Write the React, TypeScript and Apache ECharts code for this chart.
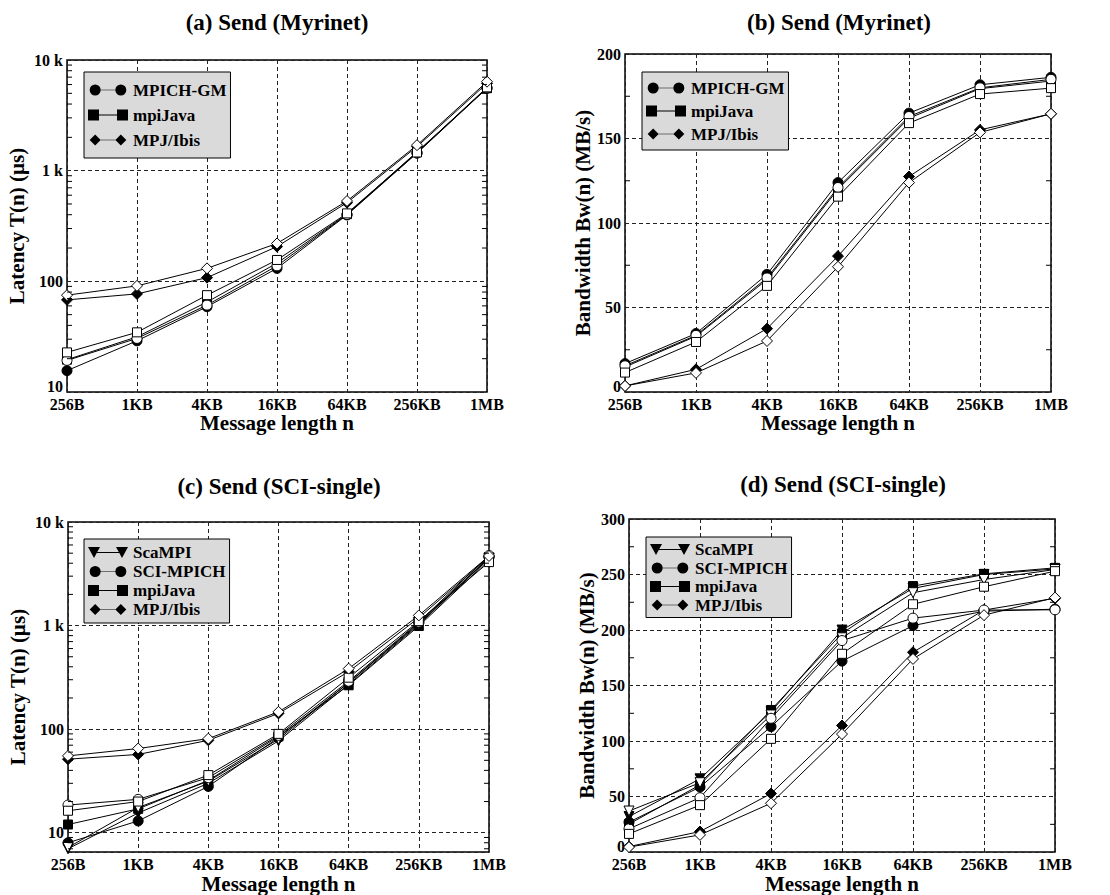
import React, { useEffect, useRef } from 'react';
import * as echarts from 'echarts';

const FONT = 'Liberation Serif, Times New Roman, serif';

// ---------- data ----------
const categories = ['256B', '1KB', '4KB', '16KB', '64KB', '256KB', '1MB'];

// (a) Latency, Myrinet (us)
const aMpichGmFilled = [15.6, 29, 59, 131, 398, 1440, 5550];
const aMpichGmOpen = [19.3, 30.5, 61, 138, 402, 1450, 5600];
const aMpiJavaFilled = [19.6, 31.5, 65, 146, 405, 1480, 5560];
const aMpiJavaOpen = [22.8, 34.6, 75, 156, 411, 1460, 5660];
const aMpjIbisFilled = [68, 77, 108, 206, 514, 1650, 6150];
const aMpjIbisOpen = [75, 91, 131, 220, 532, 1700, 6370];

// (b) Bandwidth, Myrinet (MB/s)
const bMpichGmFilled = [16.8, 34.6, 69.6, 123.9, 165, 181.8, 186.2];
const bMpichGmOpen = [15.5, 33.5, 67.5, 121, 163, 180, 185];
const bMpiJavaFilled = [14.8, 33, 66.5, 120, 162, 179.5, 184];
const bMpiJavaOpen = [11.5, 29.6, 62.8, 115.6, 159.1, 176.3, 179.8];
const bMpjIbisFilled = [3.6, 13.4, 37.5, 80.4, 127.5, 155.1, 164.6];
const bMpjIbisOpen = [3.6, 11.3, 30.2, 74.1, 123.9, 153.6, 164.6];

// (c) Latency, SCI-single (us)
const cScaMpiFilled = [7.0, 15.5, 30, 77, 270, 1020, 4450];
const cScaMpiOpen = [7.2, 17.5, 31.5, 80, 280, 1040, 4500];
const cSciMpichFilled = [8.0, 13, 28, 83, 281, 1064, 4550];
const cSciMpichOpen = [18.5, 21, 34, 87, 290, 1080, 4750];
const cMpiJavaFilled = [12, 17, 32, 85, 265, 990, 4300];
const cMpiJavaOpen = [16.3, 20, 36, 90, 314, 1104, 4100];
const cMpjIbisFilled = [51.3, 57, 78, 142, 359, 1190, 4600];
const cMpjIbisOpen = [55.2, 65, 81, 147, 384, 1253, 4700];

// (d) Bandwidth, SCI-single (MB/s)
const dScaMpiFilled = [32, 66, 126.5, 200, 237.5, 250, 255];
const dScaMpiOpen = [37, 62.5, 123.5, 193, 233.6, 245.5, 254.5];
const dSciMpichFilled = [27, 58.6, 113, 172, 204, 217, 218.8];
const dSciMpichOpen = [21, 49, 120.5, 190.5, 210.7, 218, 218.2];
const dMpiJavaFilled = [25.3, 60.5, 128, 197, 239.6, 250.6, 256];
const dMpiJavaOpen = [16.4, 42.3, 102, 178.6, 223.2, 239, 253];
const dMpjIbisFilled = [5, 18.5, 52.7, 114, 180, 218, 228.6];
const dMpjIbisOpen = [4.5, 15.5, 44, 106.3, 174, 213.4, 229.2];

// axis ranges / ticks
const latencyMaxA = 10000;
const latencyMinA = 10;
const latencyMinC = 6.5;
const bwMaxB = 200;
const bwMaxD = 300;
const bwInterval = 50;

const titles = ['(a) Send (Myrinet)', '(b) Send (Myrinet)', '(c) Send (SCI-single)', '(d) Send (SCI-single)'];
const latencyName = 'Latency T(n) (µs)';
const bandwidthName = 'Bandwidth Bw(n) (MB/s)';
const xName = 'Message length n';

// ---------- layout ----------
const gridBoxes = [
  { left: 67, top: 60, width: 420, height: 332 },
  { left: 625, top: 54, width: 426, height: 338 },
  { left: 68, top: 522, width: 421, height: 331 },
  { left: 629, top: 519, width: 426, height: 336 },
];
const titlePos = [
  [277, 22],
  [839, 22],
  [279, 486],
  [843, 484],
];
const yNameGap = [40, 32, 40, 32];
const legendBoxes = [
  { left: 84, top: 72, itemGap: 7, lineHeight: 18, padding: [9, 4, 9, 4] },
  { left: 642, top: 72, itemGap: 5, lineHeight: 18, padding: [7, 4, 7, 4] },
  { left: 84, top: 539, itemGap: 2, lineHeight: 17, padding: [5, 4, 5, 4] },
  { left: 646, top: 537, itemGap: 1.5, lineHeight: 17, padding: [4, 4, 4, 4] },
];

const ICONS: Record<string, string> = {
  circle:
    'path://M0,6 A6,6 0 1 1 12,6 A6,6 0 1 1 0,6 Z M12,5.6 L28,5.6 L28,6.4 L12,6.4 Z M28,6 A6,6 0 1 1 40,6 A6,6 0 1 1 28,6 Z',
  rect: 'path://M0,0.5 L11,0.5 L11,11.5 L0,11.5 Z M11,5.6 L29,5.6 L29,6.4 L11,6.4 Z M29,0.5 L40,0.5 L40,11.5 L29,11.5 Z',
  diamond: 'path://M0,6 L6,0 L12,6 L6,12 Z M12,5.6 L28,5.6 L28,6.4 L12,6.4 Z M28,6 L34,0 L40,6 L34,12 Z',
  triangle: 'path://M0,0.5 L12,0.5 L6,11.5 Z M9,5.6 L31,5.6 L31,6.4 L9,6.4 Z M28,0.5 L40,0.5 L34,11.5 Z',
};
const SYMBOL_SIZE: Record<string, number> = { circle: 10, rect: 9, diamond: 11, triangle: 10 };

type Def = { name: string; symbol: string; filled: boolean; data: number[] };

const panels: Def[][] = [
  [
    { name: 'MPICH-GM', symbol: 'circle', filled: true, data: aMpichGmFilled },
    { name: 'MPICH-GM', symbol: 'circle', filled: false, data: aMpichGmOpen },
    { name: 'mpiJava', symbol: 'rect', filled: true, data: aMpiJavaFilled },
    { name: 'mpiJava', symbol: 'rect', filled: false, data: aMpiJavaOpen },
    { name: 'MPJ/Ibis', symbol: 'diamond', filled: true, data: aMpjIbisFilled },
    { name: 'MPJ/Ibis', symbol: 'diamond', filled: false, data: aMpjIbisOpen },
  ],
  [
    { name: 'MPICH-GM', symbol: 'circle', filled: true, data: bMpichGmFilled },
    { name: 'MPICH-GM', symbol: 'circle', filled: false, data: bMpichGmOpen },
    { name: 'mpiJava', symbol: 'rect', filled: true, data: bMpiJavaFilled },
    { name: 'mpiJava', symbol: 'rect', filled: false, data: bMpiJavaOpen },
    { name: 'MPJ/Ibis', symbol: 'diamond', filled: true, data: bMpjIbisFilled },
    { name: 'MPJ/Ibis', symbol: 'diamond', filled: false, data: bMpjIbisOpen },
  ],
  [
    { name: 'ScaMPI', symbol: 'triangle', filled: true, data: cScaMpiFilled },
    { name: 'ScaMPI', symbol: 'triangle', filled: false, data: cScaMpiOpen },
    { name: 'SCI-MPICH', symbol: 'circle', filled: true, data: cSciMpichFilled },
    { name: 'SCI-MPICH', symbol: 'circle', filled: false, data: cSciMpichOpen },
    { name: 'mpiJava', symbol: 'rect', filled: true, data: cMpiJavaFilled },
    { name: 'mpiJava', symbol: 'rect', filled: false, data: cMpiJavaOpen },
    { name: 'MPJ/Ibis', symbol: 'diamond', filled: true, data: cMpjIbisFilled },
    { name: 'MPJ/Ibis', symbol: 'diamond', filled: false, data: cMpjIbisOpen },
  ],
  [
    { name: 'ScaMPI', symbol: 'triangle', filled: true, data: dScaMpiFilled },
    { name: 'ScaMPI', symbol: 'triangle', filled: false, data: dScaMpiOpen },
    { name: 'SCI-MPICH', symbol: 'circle', filled: true, data: dSciMpichFilled },
    { name: 'SCI-MPICH', symbol: 'circle', filled: false, data: dSciMpichOpen },
    { name: 'mpiJava', symbol: 'rect', filled: true, data: dMpiJavaFilled },
    { name: 'mpiJava', symbol: 'rect', filled: false, data: dMpiJavaOpen },
    { name: 'MPJ/Ibis', symbol: 'diamond', filled: true, data: dMpjIbisFilled },
    { name: 'MPJ/Ibis', symbol: 'diamond', filled: false, data: dMpjIbisOpen },
  ],
];

function logMinorTicks(min: number, max: number): number[] {
  const out: number[] = [];
  for (let dec = 1; dec < max; dec *= 10) {
    for (let m = 2; m <= 9; m++) {
      const v = m * dec;
      if (v > min && v < max) out.push(v);
    }
  }
  return out;
}
function linMinorTicks(max: number, interval: number): number[] {
  const out: number[] = [];
  for (let v = interval / 2; v < max; v += interval) out.push(v);
  return out;
}
const minorTicks = [
  logMinorTicks(latencyMinA, latencyMaxA),
  linMinorTicks(bwMaxB, bwInterval),
  logMinorTicks(latencyMinC, latencyMaxA),
  linMinorTicks(bwMaxD, bwInterval),
];

const dashed = { type: [4, 3] as any, color: '#222', width: 1 };

function logLabel(v: number, isMin: boolean) {
  const l = Math.log10(v);
  if (Math.abs(l - Math.round(l)) > 1e-6) return '';
  const r = Math.round(l);
  if (r === 4) return '10 k';
  if (r === 3) return '1 k';
  const s = String(Math.round(v));
  return isMin ? `{low|${s}}` : s;
}

function buildOption() {
  const grid = gridBoxes.map((g) => ({
    ...g,
    show: true,
    borderColor: '#000',
    borderWidth: 1.5,
    backgroundColor: '#fff',
    containLabel: false,
  }));

  const labelStyle = { color: '#000', fontFamily: FONT, fontWeight: 'bold', fontSize: 16 };

  const xAxis = gridBoxes.map((_, i) => ({
    type: 'category',
    gridIndex: i,
    data: categories,
    boundaryGap: false,
    axisLine: { show: false },
    axisTick: { show: false },
    axisLabel: { ...labelStyle, margin: 5, interval: 0, lineHeight: 14 },
    splitLine: { show: true, lineStyle: dashed },
    name: xName,
    nameLocation: 'middle',
    nameGap: 20,
    nameTextStyle: { color: '#000', fontFamily: FONT, fontWeight: 'bold', fontSize: 21 },
  }));

  const yAxis = gridBoxes.map((_, i) => {
    const isLog = i === 0 || i === 2;
    const yMin = isLog ? (i === 0 ? latencyMinA : latencyMinC) : 0;
    const base: any = {
      gridIndex: i,
      axisLine: { show: false },
      axisTick: { show: false },
      splitLine: { show: true, lineStyle: dashed },
      axisLabel: {
        ...labelStyle,
        margin: 4,
        lineHeight: 14,
        rich: { low: { ...labelStyle, lineHeight: 13, padding: [0, 0, 12, 0] } },
      },
      name: isLog ? latencyName : bandwidthName,
      nameLocation: 'middle',
      nameGap: yNameGap[i],
      nameTextStyle: { color: '#000', fontFamily: FONT, fontWeight: 'bold', fontSize: 21 },
    };
    if (isLog) {
      base.type = 'log';
      base.logBase = 10;
      base.min = yMin;
      base.max = latencyMaxA;
      base.axisLabel.formatter = (v: number) => logLabel(v, i === 0 && Math.abs(v - yMin) < 1e-6);
    } else {
      base.type = 'value';
      base.min = 0;
      base.max = i === 1 ? bwMaxB : bwMaxD;
      base.interval = bwInterval;
      base.axisLabel.formatter = (v: number) => (v === 0 ? '{low|0}' : String(v));
    }
    return base;
  });

  const series: any[] = [];
  panels.forEach((defs, i) => {
    defs.forEach((d) => {
      series.push({
        type: 'line',
        name: d.filled ? `${d.name}#${i}` : `${d.name}#${i}open`,
        xAxisIndex: i,
        yAxisIndex: i,
        data: d.data,
        symbol: d.symbol,
        symbolSize: SYMBOL_SIZE[d.symbol],
        symbolRotate: d.symbol === 'triangle' ? 180 : 0,
        showAllSymbol: true,
        lineStyle: { color: '#000', width: 1 },
        itemStyle: { color: d.filled ? '#000' : '#fff', borderColor: '#000', borderWidth: 1 },
        emphasis: { disabled: true },
        z: d.filled ? 3 : 4,
      });
    });
    series.push({
      type: 'custom',
      name: `minor#${i}`,
      xAxisIndex: i,
      yAxisIndex: i,
      silent: true,
      z: 5,
      data: minorTicks[i].map((v) => [0, v]),
      encode: { x: 0, y: 1 },
      renderItem: (params: any, api: any) => {
        const y = api.coord([0, api.value(1)])[1];
        const cs = params.coordSys;
        return {
          type: 'group',
          children: [
            { type: 'line', shape: { x1: cs.x, y1: y, x2: cs.x + 5, y2: y }, style: { stroke: '#000', lineWidth: 1 } },
            {
              type: 'line',
              shape: { x1: cs.x + cs.width - 5, y1: y, x2: cs.x + cs.width, y2: y },
              style: { stroke: '#000', lineWidth: 1 },
            },
          ],
        };
      },
    });
  });

  const legend = panels.map((defs, i) => ({
    orient: 'vertical',
    left: legendBoxes[i].left,
    top: legendBoxes[i].top,
    padding: legendBoxes[i].padding,
    itemGap: legendBoxes[i].itemGap,
    itemWidth: 40,
    itemHeight: 11,
    backgroundColor: '#dadada',
    borderColor: '#000',
    borderWidth: 1,
    borderRadius: 0,
    selectedMode: false,
    itemStyle: { borderWidth: 0 },
    data: defs.filter((d) => d.filled).map((d) => ({ name: `${d.name}#${i}`, icon: ICONS[d.symbol] })),
    formatter: (n: string) => n.split('#')[0],
    textStyle: {
      color: '#000',
      fontFamily: FONT,
      fontWeight: 'bold',
      fontSize: 17,
      lineHeight: legendBoxes[i].lineHeight,
    },
  }));

  const graphic = titles.map((t, i) => ({
    type: 'text',
    x: titlePos[i][0],
    y: titlePos[i][1],
    style: {
      text: t,
      fill: '#000',
      fontFamily: FONT,
      fontWeight: 'bold',
      fontSize: 23,
      align: 'center',
      verticalAlign: 'middle',
    },
  }));

  return {
    animation: false,
    backgroundColor: '#fff',
    grid,
    xAxis,
    yAxis,
    series,
    legend,
    graphic,
  };
}

export default function App() {
  const ref = useRef<HTMLDivElement>(null);
  useEffect(() => {
    if (!ref.current) return;
    const chart = echarts.init(ref.current, undefined, { renderer: 'svg' });
    chart.setOption(buildOption() as any);
    return () => chart.dispose();
  }, []);
  return <div ref={ref} style={{ position: 'absolute', left: 0, top: 0, width: 1110, height: 895 }} />;
}
